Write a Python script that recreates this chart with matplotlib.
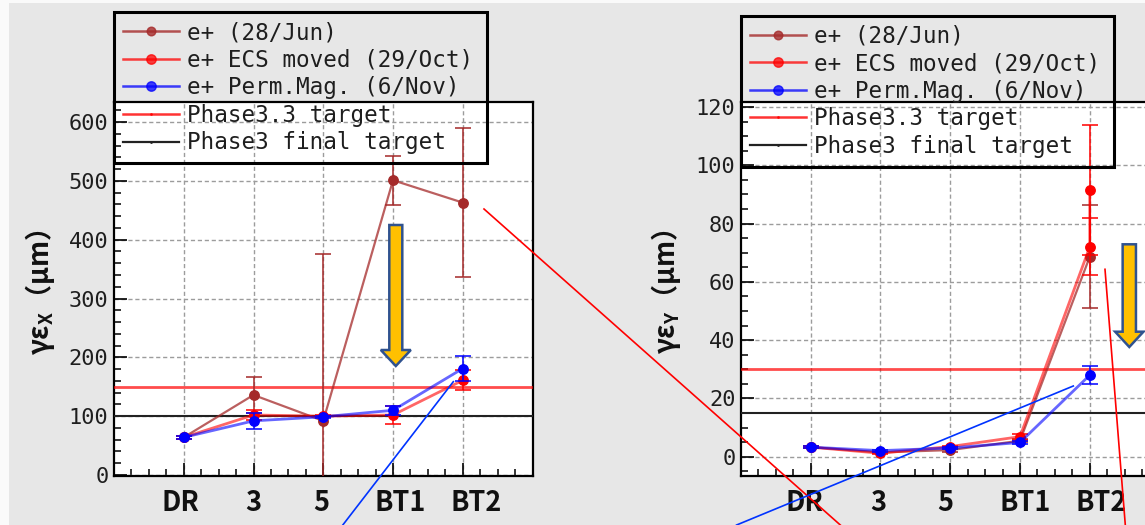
import matplotlib
matplotlib.use("Agg")
import matplotlib.pyplot as plt
import matplotlib.transforms as mtransforms
from matplotlib.lines import Line2D
from matplotlib.patches import Polygon, Rectangle
from matplotlib.ticker import FixedLocator, MultipleLocator

# ---- data -------------------------------------------------------------
stations = ["DR", "3", "5", "BT1", "BT2"]
station_x = [1, 2, 3, 4, 5]

# horizontal normalised emittance (um)
ex_jun = [64, 136, 92, 501, 463]
ex_jun_err = [2, 30, 283, 42, 127]
ex_oct = [64, 102, 100, 102, 161]
ex_oct_err = [2, 8, 2, 16, 17]
ex_nov = [64, 92, 99, 110, 181]
ex_nov_err = [2, 14, 2, 8, 22]

# vertical normalised emittance (um); the ECS run has two BT2 measurements
ey_jun = [3.3, 1.5, 2.3, 5.5, 68.6]
ey_jun_err = [0.3, 0.3, 0.5, 0.5, 17.7]
ey_oct_x = [1, 2, 3, 4, 5, 5]
ey_oct = [3.3, 1.2, 3.5, 6.9, 72.0, 91.5]
ey_oct_err = [0.3, 0.3, 0.3, 1.0, 9.8, 22.3]
ey_nov = [3.3, 2.1, 3.0, 4.9, 28.0]
ey_nov_err = [0.3, 0.3, 0.3, 0.5, 3.2]

target_phase33 = [150, 30]
target_final = [100, 15]

series_labels = ["e+ (28/Jun)", "e+ ECS moved (29/Oct)", "e+ Perm.Mag. (6/Nov)"]
target_labels = ["Phase3.3 target", "Phase3 final target"]

# ---- style ------------------------------------------------------------
W, H = 1145, 525
BROWN, RED, BLUE = "#a52a2a", "#ff0000", "#0000ff"
MONO = "DejaVu Sans Mono"
CJK = ["Noto Sans CJK JP", "DejaVu Sans"]

plt.rcParams["mathtext.fontset"] = "custom"
plt.rcParams["mathtext.bf"] = "Noto Sans CJK JP:bold"
plt.rcParams["mathtext.rm"] = "Noto Sans CJK JP:bold"
plt.rcParams["mathtext.it"] = "Noto Sans CJK JP:bold"

fig = plt.figure(figsize=(W / 100, H / 100), dpi=100, facecolor="#e7e7e7")
px = mtransforms.Affine2D().scale(1 / W, -1 / H).translate(0, 1) + fig.transFigure

# thin light margins of the page
fig.add_artist(Rectangle((0, 0), 9, H, transform=px, fc="#fafafa", ec="none", zorder=-5))
fig.add_artist(Rectangle((0, 0), W, 3, transform=px, fc="#fafafa", ec="none", zorder=-5))


def make_axes(left_px):
    ax = fig.add_axes([left_px / W, 1 - 476 / H, 418.5 / W, (476 - 102.3) / H])
    ax.set_facecolor("white")
    return ax


def style_axes(ax, ylim, major, minor):
    ax.set_xlim(0, 6)
    ax.set_ylim(*ylim)
    ax.xaxis.set_major_locator(FixedLocator(station_x))
    ax.xaxis.set_minor_locator(MultipleLocator(0.25))
    ax.yaxis.set_major_locator(MultipleLocator(major))
    ax.yaxis.set_minor_locator(MultipleLocator(minor))
    ax.tick_params(which="major", direction="in", length=9.5, width=1.2, color="black",
                   labelsize=15.8, labelcolor="#1e1e1e", pad=4)
    ax.tick_params(which="minor", direction="in", length=4.7, width=1.1, color="black")
    ax.tick_params(axis="x", which="both", labelbottom=False)
    ax.tick_params(top=False, right=False, which="both")
    for lab in ax.get_yticklabels():
        lab.set_family(MONO)
    ax.grid(which="major", ls=(0, (3, 2)), color="#9c9c9c", lw=1.0)
    ax.set_axisbelow(True)
    for sp in ax.spines.values():
        sp.set_linewidth(1.6)
        sp.set_color("black")


def draw_series(ax, x, y, err, color, z, lw=2.0, alpha=0.6):
    ax.errorbar(x, y, yerr=err, fmt="none", ecolor=color, elinewidth=1.3,
                capsize=6, capthick=1.3, alpha=0.85, zorder=z)
    ax.plot(x, y, color=color, lw=lw, alpha=alpha, zorder=z + 0.1, solid_capstyle="round")
    ax.plot(x, y, ls="none", marker="o", ms=6.8, color=color, zorder=z + 0.2)


def station_labels(ax, offsets):
    for xv, name, dx in zip(station_x, stations, offsets):
        tr = ax.get_xaxis_transform() + mtransforms.ScaledTranslation(
            dx / 100, -27 / 100, fig.dpi_scale_trans)
        ax.text(xv, 0, name, transform=tr, ha="center", va="center", fontsize=19.5,
                fontweight="bold", family=CJK, color="#111111", clip_on=False)


def legend_block(ax, box_left, box_top):
    handles = [
        Line2D([], [], color=BROWN, lw=1.8, alpha=0.8, marker="o", ms=6.2, mfc=BROWN, mec=BROWN),
        Line2D([], [], color=RED, lw=1.8, alpha=0.75, marker="o", ms=6.8, mfc=RED, mec=RED),
        Line2D([], [], color=BLUE, lw=1.8, alpha=0.75, marker="o", ms=6.8, mfc=BLUE, mec=BLUE),
        Line2D([], [], color=RED, lw=1.8, alpha=0.8, marker=".", ms=2),
        Line2D([], [], color="#222222", lw=1.6, marker=".", ms=2),
    ]
    leg = ax.legend(handles, series_labels + target_labels, loc="upper left",
                    bbox_to_anchor=(box_left / W, 1 - box_top / H),
                    bbox_transform=fig.transFigure, frameon=False, borderaxespad=0,
                    borderpad=0.40, handlelength=2.45, handletextpad=0.36,
                    labelspacing=0.20, prop={"family": MONO, "size": 16.3})
    for t in leg.get_texts():
        t.set_color("#1e1e1e")
    leg.set_zorder(20)
    fig.add_artist(Rectangle((box_left, box_top), 372.5, 151, transform=px, fill=False,
                             ec="black", lw=2.2, zorder=6))


# ---- left panel: horizontal ------------------------------------------
axL = make_axes(114)
style_axes(axL, (-1.7, 633.5), 100, 20)
axL.axhline(target_phase33[0], color=RED, lw=2, alpha=0.7, zorder=4)
axL.axhline(target_final[0], color="#222222", lw=1.5, zorder=4)
draw_series(axL, station_x, ex_jun, ex_jun_err, BROWN, 5, lw=1.6, alpha=0.75)
draw_series(axL, station_x, ex_oct, ex_oct_err, RED, 6)
draw_series(axL, station_x, ex_nov, ex_nov_err, BLUE, 7)
station_labels(axL, [-3, 0, -2, 7.5, 13])
legend_block(axL, 114, 12.3)
fig.text(40 / W, 1 - 292 / H, r"$\mathbf{γε_X}$（μm）", rotation=90, ha="center",
         va="center", fontsize=19.5, fontweight="bold", family=CJK, color="#111111")

# ---- right panel: vertical -------------------------------------------
axR = make_axes(741)
style_axes(axR, (-6.6, 121.6), 20, 5)
axR.axhline(target_phase33[1], color=RED, lw=2, alpha=0.7, zorder=4)
axR.axhline(target_final[1], color="#222222", lw=1.5, zorder=4)
draw_series(axR, station_x, ey_jun, ey_jun_err, BROWN, 5, lw=1.6, alpha=0.75)
draw_series(axR, ey_oct_x, ey_oct, ey_oct_err, RED, 6)
draw_series(axR, station_x, ey_nov, ey_nov_err, BLUE, 7)
station_labels(axR, [-6, -2.5, -5, 5, 11])
legend_block(axR, 741, 15.7)
fig.text(666 / W, 1 - 292 / H, r"$\mathbf{γε_Y}$（μm）", rotation=90, ha="center",
         va="center", fontsize=19.5, fontweight="bold", family=CJK, color="#111111")

# ---- slide annotations: down arrows and pointer lines ----------------
def down_arrow(cx, top, shaft_w, head_top, head_w, tip):
    pts = [(cx - shaft_w / 2, top), (cx + shaft_w / 2, top), (cx + shaft_w / 2, head_top),
           (cx + head_w / 2, head_top), (cx, tip), (cx - head_w / 2, head_top),
           (cx - shaft_w / 2, head_top)]
    fig.add_artist(Polygon(pts, closed=True, transform=px, fc="#ffc000", ec="#2f528f",
                           lw=1.8, joinstyle="miter", zorder=30))


down_arrow(395.8, 225, 13, 350, 30, 366)
down_arrow(1129.3, 244.3, 13.3, 331.7, 28.3, 347)

for (x0, y0, x1, y1, c) in [(484, 209, 840.3, 525, RED), (1105, 269.3, 1125.3, 525, RED),
                            (453.3, 381.7, 342.8, 525, "#0033ff"),
                            (1073.3, 386, 736.6, 525, "#0033ff")]:
    fig.add_artist(Line2D([x0, x1], [y0, y1], transform=px, color=c, lw=1.2, zorder=31))

fig.savefig("out.png", dpi=100, facecolor=fig.get_facecolor())
